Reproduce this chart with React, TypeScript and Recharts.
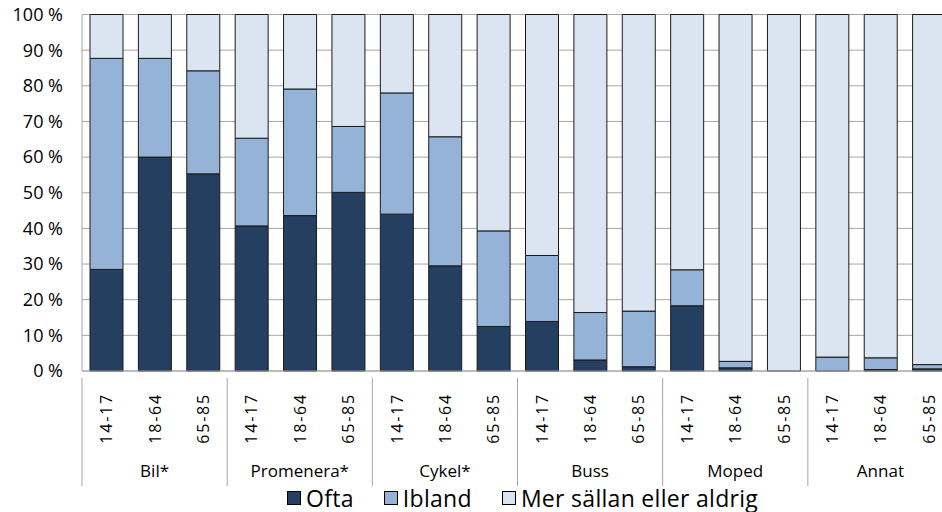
import React from 'react';
import { BarChart, Bar, XAxis, YAxis, CartesianGrid, Legend } from 'recharts';

const categories = ['Bil*', 'Promenera*', 'Cykel*', 'Buss', 'Moped', 'Annat'];
const ageGroups = ['14-17', '18-64', '65-85'];
const yTicks = [0, 10, 20, 30, 40, 50, 60, 70, 80, 90, 100];
const seriesNames = ['Ofta', 'Ibland', 'Mer sällan eller aldrig'];
const seriesColors = ['#243F60', '#95B3D7', '#DBE5F1'];

const ofta = [28.5, 60, 55.3, 40.7, 43.6, 50.1, 44, 29.5, 12.5, 13.9, 3.1, 1.2, 18.3, 0.9, 0, 0, 0.4, 0.6];
const ibland = [59.2, 27.7, 28.9, 24.6, 35.5, 18.5, 34, 36.2, 26.8, 18.5, 13.3, 15.6, 10.1, 1.8, 0, 3.9, 3.3, 1.2];
const merSallan = [12.3, 12.3, 15.8, 34.7, 20.9, 31.4, 22, 34.3, 60.7, 67.6, 83.6, 83.2, 71.6, 97.3, 100, 96.1, 96.3, 98.2];

const data = categories.flatMap((cat, ci) =>
  ageGroups.map((age, ai) => {
    const i = ci * 3 + ai;
    return { key: `${cat}|${age}`, cat, age, ofta: ofta[i], ibland: ibland[i], mer: merSallan[i] };
  })
);

const FONT = "'Open Sans', sans-serif";
const CHART_W = 960;
const CHART_H = 512;
const MARGIN = { top: 14.5, right: 7, left: 0, bottom: 0 };
const Y_W = 82;
const BAND = (CHART_W - MARGIN.right - MARGIN.left - Y_W) / data.length;

const XTick = (props: any) => {
  const { x, y, payload, index } = props;
  const row = data[index] || data.find((d) => d.key === payload.value);
  const ai = index % 3;
  const left = x - BAND / 2;
  return (
    <g>
      {ai === 0 && <line x1={left} x2={left} y1={y - 1} y2={y + 107} stroke="#a6a6a6" strokeWidth={1} />}
      <text
        x={x}
        y={y + 14}
        transform={`rotate(-90, ${x}, ${y + 14})`}
        textAnchor="end"
        dominantBaseline="central"
        fill="#000"
        fontSize={16}
        fontFamily={FONT}
        letterSpacing={1.8}
      >
        {row ? row.age : ''}
      </text>
      {ai === 1 && (
        <text x={x} y={y + 91} textAnchor="middle" dominantBaseline="central" fill="#000" fontSize={17} fontFamily={FONT}>
          {row ? row.cat : ''}
        </text>
      )}
    </g>
  );
};

const LegendContent = () => (
  <div style={{ height: 29, display: 'flex', alignItems: 'center', paddingLeft: 287, fontFamily: FONT, fontSize: 23, lineHeight: '24px', color: '#000' }}>
    {seriesNames.map((n, i) => (
      <div key={n} style={{ display: 'flex', alignItems: 'center', marginRight: 30 }}>
        <span style={{ display: 'inline-block', width: 12, height: 12, background: seriesColors[i], border: '1px solid #000', marginRight: 5 }} />
        <span style={{ letterSpacing: 0.3 }}>{n}</span>
      </div>
    ))}
  </div>
);

export default function App() {
  return (
    <div style={{ position: 'absolute', left: 0, top: 0, width: 942, height: 512, overflow: 'hidden', background: '#fff' }}>
      <BarChart width={CHART_W} height={CHART_H} data={data} margin={MARGIN} barSize={33}>
        <CartesianGrid vertical={false} stroke="#a6a6a6" strokeWidth={1} />
        <XAxis
          dataKey="key"
          interval={0}
          height={112}
          tickLine={false}
          axisLine={{ stroke: '#a6a6a6' }}
          tick={<XTick />}
        />
        <YAxis
          width={Y_W}
          domain={[0, 100]}
          ticks={yTicks}
          tickFormatter={(v: number) => `${v} %`}
          tickLine={false}
          tickMargin={13}
          axisLine={{ stroke: '#a6a6a6' }}
          tick={{ fill: '#000', fontSize: 18, fontFamily: FONT }}
        />
        <Legend verticalAlign="bottom" content={<LegendContent />} />
        <Bar dataKey="ofta" stackId="a" fill={seriesColors[0]} stroke="#1a1a1a" strokeWidth={1} isAnimationActive={false} />
        <Bar dataKey="ibland" stackId="a" fill={seriesColors[1]} stroke="#1a1a1a" strokeWidth={1} isAnimationActive={false} />
        <Bar dataKey="mer" stackId="a" fill={seriesColors[2]} stroke="#1a1a1a" strokeWidth={1} isAnimationActive={false} />
      </BarChart>
    </div>
  );
}
